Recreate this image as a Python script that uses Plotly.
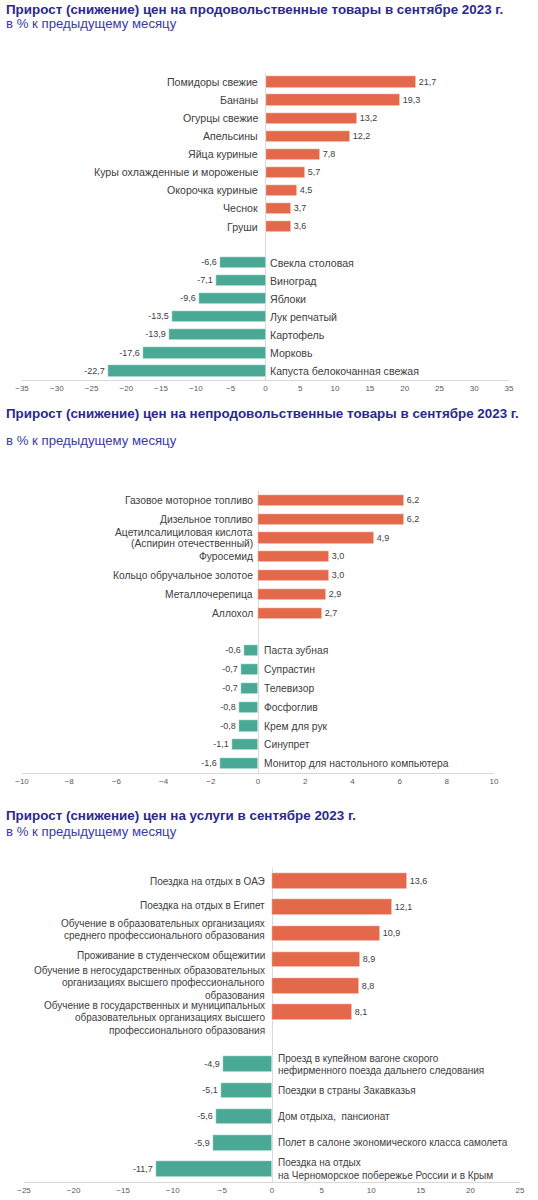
import plotly.graph_objects as go

# --- data ---
food_up_labels = ["Помидоры свежие", "Бананы", "Огурцы свежие", "Апельсины",
                  "Яйца куриные", "Куры охлажденные и мороженые",
                  "Окорочка куриные", "Чеснок", "Груши"]
food_up_values = [21.7, 19.3, 13.2, 12.2, 7.8, 5.7, 4.5, 3.7, 3.6]
food_down_labels = ["Свекла столовая", "Виноград", "Яблоки", "Лук репчатый",
                    "Картофель", "Морковь", "Капуста белокочанная свежая"]
food_down_values = [-6.6, -7.1, -9.6, -13.5, -13.9, -17.6, -22.7]

nonfood_up_labels = ["Газовое моторное топливо", "Дизельное топливо",
                     "Ацетилсалициловая кислота\n(Аспирин отечественный)",
                     "Фуросемид", "Кольцо обручальное золотое",
                     "Металлочерепица", "Аллохол"]
nonfood_up_values = [6.2, 6.2, 4.9, 3.0, 3.0, 2.9, 2.7]
nonfood_down_labels = ["Паста зубная", "Супрастин", "Телевизор", "Фосфоглив",
                       "Крем для рук", "Синупрет",
                       "Монитор для настольного компьютера"]
nonfood_down_values = [-0.6, -0.7, -0.7, -0.8, -0.8, -1.1, -1.6]

serv_up_labels = ["Поездка на отдых в ОАЭ", "Поездка на отдых в Египет",
                  "Обучение в образовательных организациях\nсреднего профессионального образования",
                  "Проживание в студенческом общежитии",
                  "Обучение в негосударственных образовательных\nорганизациях высшего профессионального\nобразования",
                  "Обучение в государственных и муниципальных\nобразовательных организациях высшего\nпрофессионального образования"]
serv_up_values = [13.6, 12.1, 10.9, 8.9, 8.8, 8.1]
serv_down_labels = ["Проезд в купейном вагоне скорого\nнефирменного поезда дальнего следования",
                    "Поездки в страны Закавказья", "Дом отдыха,  пансионат",
                    "Полет в салоне экономического класса самолета",
                    "Поездка на отдых\nна Черноморское побережье России и в Крым"]
serv_down_values = [-4.9, -5.1, -5.6, -5.9, -11.7]

subtitle = "в % к предыдущему месяцу"
titles = ["Прирост (снижение) цен на продовольственные товары в сентябре 2023 г.",
          "Прирост (снижение) цен на непродовольственные товары в сентябре 2023 г.",
          "Прирост (снижение) цен на услуги в сентябре 2023 г."]

ORANGE = "#E3694A"
GREEN = "#49A995"
TXT = "#404040"
FONT = "Liberation Sans, Arial, sans-serif"
H = 1196
W = 538


def fmt(v):
    return f"{v:.1f}".replace(".", ",")


fig = go.Figure()

# panel layout: x range, dtick, x/y pixel extents, bar width, label font, line spacing, gaps
panels = [
    dict(up=(food_up_labels, food_up_values), down=(food_down_labels, food_down_values),
         xr=[-35, 35], dt=5, xpx=(22, 509), ypx=(73, 380), bw=0.62,
         fs=10.6, ls=12, gap=(-6, 2)),
    dict(up=(nonfood_up_labels, nonfood_up_values), down=(nonfood_down_labels, nonfood_down_values),
         xr=[-10, 10], dt=2, xpx=(22, 494), ypx=(491, 773), bw=0.6,
         fs=10.3, ls=11.5, gap=(-3, 4)),
    dict(up=(serv_up_labels, serv_up_values), down=(serv_down_labels, serv_down_values),
         xr=[-25, 25], dt=5, xpx=(24, 520), ypx=(868, 1182), bw=0.6,
         fs=10, ls=12.5, gap=(-5, 4), up_dy=[0, 2, 4, 4, 3, -6]),
]


def add_label(text, y, xa, ya, side, p, dy):
    lines = text.split("\n")
    k = len(lines)
    for j, line in enumerate(lines):
        fig.add_annotation(x=0, y=y, xref=xa, yref=ya, text=line, showarrow=False,
                           xanchor="right" if side == "up" else "left",
                           xshift=p["gap"][0] if side == "up" else p["gap"][1],
                           yshift=((k - 1) / 2 - j) * p["ls"] + dy,
                           font=dict(size=p["fs"], color=TXT, family=FONT))


for i, p in enumerate(panels):
    n = i + 1
    xa = "x" if n == 1 else f"x{n}"
    ya = "y" if n == 1 else f"y{n}"
    ul, uv = p["up"]
    dl, dv = p["down"]
    up_pos = list(range(len(uv)))
    down_pos = [len(uv) + 1 + k for k in range(len(dv))]
    total = len(uv) + 1 + len(dv)

    for vals, pos, col in ((uv, up_pos, ORANGE), (dv, down_pos, GREEN)):
        fig.add_trace(go.Bar(x=vals, y=pos, orientation="h", xaxis=xa, yaxis=ya,
                             marker=dict(color=col, line=dict(color="white", width=0.5)),
                             width=p["bw"], text=[fmt(v) for v in vals],
                             textposition="outside",
                             textfont=dict(size=9, color=TXT, family=FONT),
                             cliponaxis=False, showlegend=False, hoverinfo="x+y"))

    up_dy = p.get("up_dy", [0] * len(ul))
    for lab, pos, dy in zip(ul, up_pos, up_dy):
        add_label(lab, pos, xa, ya, "up", p, dy)
    for lab, pos in zip(dl, down_pos):
        add_label(lab, pos, xa, ya, "down", p, 0)

    xdom = [p["xpx"][0] / W, p["xpx"][1] / W]
    ydom = [1 - p["ypx"][1] / H, 1 - p["ypx"][0] / H]
    fig.update_layout({
        ("xaxis" if n == 1 else f"xaxis{n}"): dict(
            domain=xdom, anchor=ya, range=p["xr"], dtick=p["dt"], showgrid=False,
            zeroline=True, zerolinecolor="#d9d9d9", zerolinewidth=1,
            showline=True, linecolor="#d9d9d9", ticks="", automargin=False,
            tickfont=dict(size=8, color="#595959", family=FONT), fixedrange=True),
        ("yaxis" if n == 1 else f"yaxis{n}"): dict(
            domain=ydom, anchor=xa, range=[total - 0.5, -0.5], showticklabels=False,
            showgrid=False, zeroline=False, showline=False, ticks="",
            automargin=False, fixedrange=True),
    })

# titles
title_px = [(10, 24), (413, 440), (815, 831)]
for t, (ty, sy) in zip(titles, title_px):
    fig.add_annotation(x=4 / W, y=1 - ty / H, xref="paper", yref="paper",
                       text=f"<b>{t}</b>", showarrow=False, xanchor="left",
                       yanchor="middle", font=dict(size=13.4, color="#2B2A8C", family=FONT))
    fig.add_annotation(x=4 / W, y=1 - sy / H, xref="paper", yref="paper",
                       text=subtitle, showarrow=False, xanchor="left",
                       yanchor="middle", font=dict(size=13.2, color="#3A3AA6", family=FONT))

fig.update_layout(width=W, height=H, margin=dict(l=0, r=0, t=0, b=0, autoexpand=False),
                  plot_bgcolor="white", paper_bgcolor="white", bargap=0)

fig.write_html("out.html", config={"displayModeBar": False},
               post_script="document.body.style.margin='0';")
